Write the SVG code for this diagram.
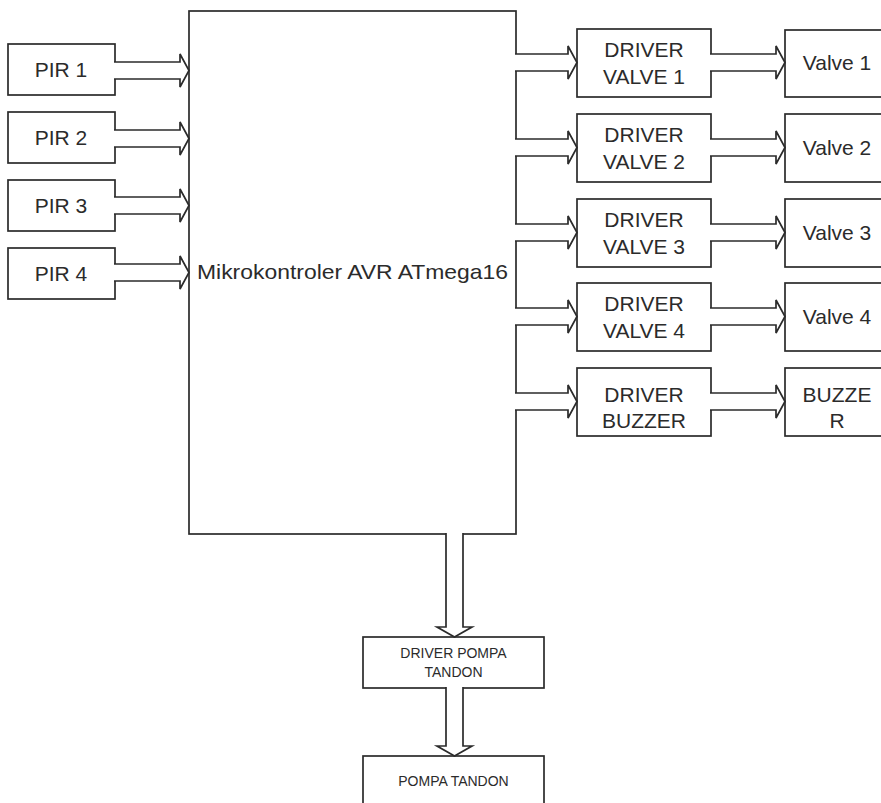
<svg xmlns="http://www.w3.org/2000/svg" width="881" height="803" viewBox="0 0 881 803">
<style>
.box{fill:#fff;stroke:#2b2b2b;stroke-width:1.7}
.arr{fill:#fff;stroke:#2b2b2b;stroke-width:1.7;stroke-linejoin:miter}
.t{font-family:"Liberation Sans",Arial,sans-serif;font-size:21px;fill:#2b2b2b;text-anchor:middle}
.s{font-family:"Liberation Sans",Arial,sans-serif;font-size:14px;fill:#2b2b2b;text-anchor:middle}
</style>
<rect width="881" height="803" fill="#fff"/>
<g id="pir1"><rect class="box" x="8" y="44" width="107" height="51"/><text class="t" x="61" y="77">PIR 1</text></g>
<g id="pir2"><rect class="box" x="8" y="112" width="107" height="51"/><text class="t" x="61" y="145">PIR 2</text></g>
<g id="pir3"><rect class="box" x="8" y="180" width="107" height="51"/><text class="t" x="61" y="213">PIR 3</text></g>
<g id="pir4"><rect class="box" x="8" y="248" width="107" height="51"/><text class="t" x="61" y="281">PIR 4</text></g>
<g id="mcu"><rect class="box" x="189" y="11" width="327" height="523"/><text class="t" x="197" y="279" style="text-anchor:start" textLength="311" lengthAdjust="spacingAndGlyphs">Mikrokontroler AVR ATmega16</text></g>
<g id="drv1"><rect class="box" x="577" y="29" width="134" height="68"/><text class="t" x="644" y="57">DRIVER</text><text class="t" x="644" y="84">VALVE 1</text></g>
<g id="drv2"><rect class="box" x="577" y="114" width="134" height="68"/><text class="t" x="644" y="142">DRIVER</text><text class="t" x="644" y="169">VALVE 2</text></g>
<g id="drv3"><rect class="box" x="577" y="199" width="134" height="68"/><text class="t" x="644" y="227">DRIVER</text><text class="t" x="644" y="254">VALVE 3</text></g>
<g id="drv4"><rect class="box" x="577" y="283" width="134" height="68"/><text class="t" x="644" y="311">DRIVER</text><text class="t" x="644" y="338">VALVE 4</text></g>
<g id="drvbuz"><rect class="box" x="577" y="368" width="134" height="68"/><text class="t" x="644" y="402">DRIVER</text><text class="t" x="644" y="428">BUZZER</text></g>
<g id="valve1"><rect class="box" x="785" y="30" width="110" height="67"/><text class="t" x="837" y="70">Valve 1</text></g>
<g id="valve2"><rect class="box" x="785" y="114" width="110" height="68"/><text class="t" x="837" y="155">Valve 2</text></g>
<g id="valve3"><rect class="box" x="785" y="199" width="110" height="68"/><text class="t" x="837" y="240">Valve 3</text></g>
<g id="valve4"><rect class="box" x="785" y="283" width="110" height="68"/><text class="t" x="837" y="324">Valve 4</text></g>
<g id="buzzer"><rect class="box" x="785" y="368" width="110" height="68"/><text class="t" x="837" y="402">BUZZE</text><text class="t" x="837" y="428">R</text></g>
<g id="drvpompa"><rect class="box" x="363" y="637" width="181" height="51"/><text class="s" x="453.5" y="658">DRIVER POMPA</text><text class="s" x="453.5" y="677">TANDON</text></g>
<g id="pompa"><rect class="box" x="363" y="756" width="181" height="60"/><text class="s" x="453.5" y="786">POMPA TANDON</text></g>
<g id="connectors">
<path class="arr" d="M114,62 H180 V54 L189,70.5 L180,87 V79 H114"/>
<path class="arr" d="M114,130 H180 V122 L189,138.5 L180,155 V147 H114"/>
<path class="arr" d="M114,197 H180 V189 L189,205.5 L180,222 V214 H114"/>
<path class="arr" d="M114,264 H180 V256 L189,272.5 L180,289 V281 H114"/>
<path class="arr" d="M515,54 H568 V46 L577,62.5 L568,79 V71 H515"/>
<path class="arr" d="M515,139 H568 V131 L577,147.5 L568,164 V156 H515"/>
<path class="arr" d="M515,224 H568 V216 L577,232.5 L568,249 V241 H515"/>
<path class="arr" d="M515,308 H568 V300 L577,316.5 L568,333 V325 H515"/>
<path class="arr" d="M515,393 H568 V385 L577,401.5 L568,418 V410 H515"/>
<path class="arr" d="M710,54 H776 V46 L785,62.5 L776,79 V71 H710"/>
<path class="arr" d="M710,139 H776 V131 L785,147.5 L776,164 V156 H710"/>
<path class="arr" d="M710,224 H776 V216 L785,232.5 L776,249 V241 H710"/>
<path class="arr" d="M710,308 H776 V300 L785,316.5 L776,333 V325 H710"/>
<path class="arr" d="M710,393 H776 V385 L785,401.5 L776,418 V410 H710"/>
<path class="arr" d="M446,533 V627 H437 L454.5,637 L472,627 H463 V533"/>
<path class="arr" d="M446,687 V746 H437 L454.5,756 L472,746 H463 V687"/>
</g>
</svg>
